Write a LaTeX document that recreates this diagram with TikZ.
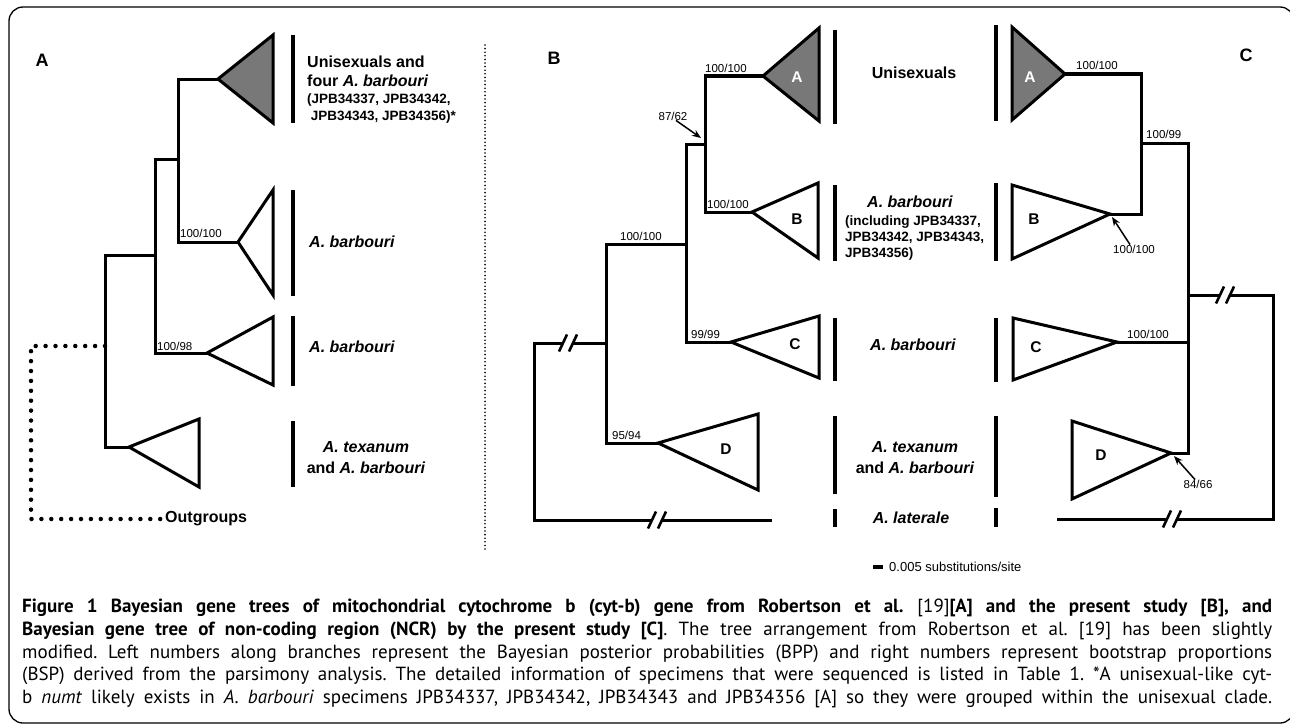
\documentclass[tikz,border=0pt]{standalone}
\usepackage{fontspec}
\setmainfont{Liberation Sans}
\newfontfamily\captionfont{PT Sans}
\usepackage{xcolor}
\usetikzlibrary{arrows.meta}

\definecolor{cladegray}{RGB}{120,120,120}
\newcommand{\idsize}{\fontsize{13.5}{16}\selectfont}

\tikzset{
  branch/.style={line width=3pt, line join=miter},
  clade/.style={line width=3pt, line join=miter},
  fullclade/.style={clade, fill=cladegray},
  bar/.style={line width=4.5pt},
  support/.style={font=\fontsize{11.5}{13}\selectfont, inner sep=0pt, anchor=base west},
  taxon/.style={font=\fontsize{16}{19}\selectfont\bfseries, inner sep=0pt},
  cladeid/.style={font=\fontsize{15.5}{16}\selectfont\bfseries, inner sep=0pt},
  panel/.style={font=\fontsize{18}{20}\selectfont\bfseries, inner sep=0pt},
  pointer/.style={line width=1.5pt, -{Stealth[length=9pt, width=7pt]}},
  outdots/.style={line width=4.5pt, line cap=round, dash pattern=on 0pt off 9.9pt},
  sepdots/.style={line width=1.8pt, line cap=round, dash pattern=on 0pt off 3.6pt},
  captext/.style={font=\captionfont\fontsize{19}{22.7}\selectfont, text width=1250pt,
    align=justify, inner sep=0pt, anchor=north west},
  brk/.pic={
    \fill[white] (-9,8.5) -- (-1,-8.5) -- (9,-8.5) -- (1,8.5) -- cycle;
    \draw[line width=2.6pt] (-9,8.5) -- (-1,-8.5) (1,8.5) -- (9,-8.5);
  }
}

\begin{document}
\begin{tikzpicture}[x=1pt, y=-1pt]
  \useasboundingbox (0,0) rectangle (1290,725);
  \draw[line width=1.3pt, rounded corners=14pt] (9,7) rectangle (1294,723);

  % panel A
  \begin{scope}
    \node[panel] (pA) at (42,60) {A};
    \coordinate (aA) at (218,79);
    \coordinate (aB) at (238,242);
    \coordinate (aC) at (207,353);
    \coordinate (aD) at (129,447);
    \coordinate (na1) at (178,159);
    \coordinate (na2) at (155,255);
    \coordinate (na3) at (105,346);
    \coordinate (oa) at (31,519);

    \draw[fullclade] (aA) -- (273,35) -- (273,123) -- cycle;
    \draw[clade] (aB) -- (273,190) -- (273,295) -- cycle;
    \draw[clade] (aC) -- (273,317) -- (273,385) -- cycle;
    \draw[clade] (aD) -- (199,419) -- (199,487) -- cycle;

    \draw[branch] (aA) -| (na1) |- (aB);
    \draw[branch] (na1) -| (na2) |- (aC);
    \draw[branch] (na2) -| (na3) |- (aD);

    \node[taxon, anchor=west] (outA) at (165,519) {Outgroups};
    \draw[outdots] (na3) -| (oa) -- (outA.west);

    \node[support] (sA1) at (180,237) {100/100};
    \node[support] (sA2) at (157,350) {100/98};

    \draw[bar] (293,35) -- (293,123);
    \draw[bar] (293,190) -- (293,296);
    \draw[bar] (293,316) -- (293,386);
    \draw[bar] (293,421) -- (293,487);

    \node[taxon, anchor=west, align=left] (tA1) at (307,90)
      {Unisexuals and\\ four \textit{A. barbouri}\\[-2pt]
       \idsize(JPB34337, JPB34342,\\[-2pt] \idsize\ JPB34343, JPB34356)*};
    \node[taxon, anchor=west] (tA2) at (309,242) {\textit{A. barbouri}};
    \node[taxon, anchor=west] (tA3) at (309,347) {\textit{A. barbouri}};
    \node[taxon, align=center] (tA4) at (366,458) {\textit{A. texanum}\\[2pt] and \textit{A. barbouri}};
  \end{scope}

  \draw[sepdots] (485,45) -- (485,552);

  % panel B
  \begin{scope}
    \node[panel] (pB) at (554,58) {B};
    \coordinate (bA) at (763,76);
    \coordinate (bB) at (752,212);
    \coordinate (bC) at (731,342);
    \coordinate (bD) at (658,443);
    \coordinate (nb1) at (705,144);
    \coordinate (nb2) at (686,244);
    \coordinate (nb3) at (606,343);
    \coordinate (rb) at (534,520);
    \coordinate (outB) at (772,520);

    \draw[fullclade] (bA) -- (819,28) -- (819,121) -- cycle;
    \draw[clade] (bB) -- (818,183) -- (818,258) -- cycle;
    \draw[clade] (bC) -- (819,316) -- (819,378) -- cycle;
    \draw[clade] (bD) -- (758,414) -- (758,490) -- cycle;
    \node[cladeid, text=white] (cbA) at (797,77) {A};
    \node[cladeid] (cbB) at (797,219) {B};
    \node[cladeid] (cbC) at (795,344) {C};
    \node[cladeid] (cbD) at (726,449) {D};

    \draw[branch] (bA) -| (nb1) |- (bB);
    \draw[branch] (nb1) -| (nb2) |- (bC);
    \draw[branch] (nb2) -| (nb3) |- (bD);
    \draw[branch] (nb3) -| (rb) -- (outB);
    \pic at (568,343) {brk};
    \pic at (657,520) {brk};

    \node[support] (sB1) at (705,72) {100/100};
    \node[support] (sB2) at (707,208) {100/100};
    \node[support] (sB3) at (620,240) {100/100};
    \node[support] (sB4) at (691,338) {99/99};
    \node[support] (sB5) at (612,439) {95/94};
    \node[support, anchor=center] (sB6) at (673,116) {87/62};
    \coordinate (pB) at (701,138);
    \draw[pointer] ([xshift=3pt]sB6.south) -- (pB);

    \draw[bar] (835,30) -- (835,124);
    \draw[bar] (835,185) -- (835,261);
    \draw[bar] (835,318) -- (835,381);
    \draw[bar] (835,416) -- (835,494);
    \draw[bar] (835,509) -- (835,527);
  \end{scope}

  % shared labels
  \node[taxon] (tM1) at (914,73) {Unisexuals};
  \node[taxon, anchor=north west, align=left] (tM2) at (845,196)
    {\hspace*{22pt}\textit{A. barbouri}\\[-1pt]
     \idsize(including JPB34337,\\[-3pt] \idsize JPB34342, JPB34343,\\[-3pt] \idsize JPB34356)};
  \node[taxon] (tM3) at (913,345) {\textit{A. barbouri}};
  \node[taxon, align=center] (tM4) at (915,458) {\textit{A. texanum}\\[2pt] and \textit{A. barbouri}};
  \node[taxon] (tM5) at (911,518) {\textit{A. laterale}};

  % panel C
  \begin{scope}
    \node[panel] (pC) at (1246,55) {C};
    \coordinate (cA) at (1065,74);
    \coordinate (cB) at (1110,214);
    \coordinate (cC) at (1117,342);
    \coordinate (cD) at (1171,453);
    \coordinate (nc1) at (1141,143);
    \coordinate (nc2) at (1188,295);
    \coordinate (rc) at (1273,519);
    \coordinate (outC) at (1057,519);

    \draw[fullclade] (cA) -- (1012,27) -- (1012,120) -- cycle;
    \draw[clade] (cB) -- (1012,185) -- (1012,259) -- cycle;
    \draw[clade] (cC) -- (1013,318) -- (1013,380) -- cycle;
    \draw[clade] (cD) -- (1072,421) -- (1072,499) -- cycle;
    \node[cladeid, text=white] (ccA) at (1030,77) {A};
    \node[cladeid] (ccB) at (1034,219) {B};
    \node[cladeid] (ccC) at (1036,347) {C};
    \node[cladeid] (ccD) at (1101,455) {D};

    \draw[branch] (cA) -| (nc1) |- (cB);
    \draw[branch] (nc1) -| (nc2) |- (cD);
    \draw[branch] (cC) -- (cC -| nc2);
    \draw[branch] (nc2) -| (rc) -- (outC);
    \pic at (1225,295) {brk};
    \pic at (1172,519) {brk};

    \node[support] (sC1) at (1076,70) {100/100};
    \node[support] (sC2) at (1146,138) {100/99};
    \node[support] (sC3) at (1127,338) {100/100};
    \node[support, anchor=center] (sC4) at (1134,249) {100/100};
    \node[support, anchor=center] (sC5) at (1198,484) {84/66};
    \coordinate (pC1) at (1112,217);
    \coordinate (pC2) at (1174,456);
    \draw[pointer] ([xshift=-4pt]sC4.north) -- (pC1);
    \draw[pointer] ([xshift=-3pt]sC5.north) -- (pC2);

    \draw[bar] (996,25) -- (996,121);
    \draw[bar] (996,183) -- (996,261);
    \draw[bar] (996,318) -- (996,382);
    \draw[bar] (996,416) -- (996,497);
    \draw[bar] (996,508) -- (996,527);
  \end{scope}

  % scale
  \draw[line width=4pt] (873,567) -- (883,567);
  \node[support, anchor=west, font=\fontsize{13}{14}\selectfont] (scl) at (889,567) {0.005 substitutions/site};

  % caption
  \node[captext] (cap) at (22,599) {\frenchspacing\parfillskip=0pt
    \textbf{Figure 1 Bayesian gene trees of mitochondrial cytochrome b (cyt-b) gene from Robertson et al.} [19]\textbf{[A] and the present study [B], and\linebreak
    Bayesian gene tree of non-coding region (NCR) by the present study [C]}. The tree arrangement from Robertson et al. [19] has been slightly\linebreak
    modified. Left numbers along branches represent the Bayesian posterior probabilities (BPP) and right numbers represent bootstrap proportions\linebreak
    (BSP) derived from the parsimony analysis. The detailed information of specimens that were sequenced is listed in Table 1. *A unisexual-like cyt-\linebreak
    b \textit{numt} likely exists in \textit{A. barbouri} specimens JPB34337, JPB34342, JPB34343 and JPB34356 [A] so they were grouped within the unisexual clade.\par};
\end{tikzpicture}
\end{document}
